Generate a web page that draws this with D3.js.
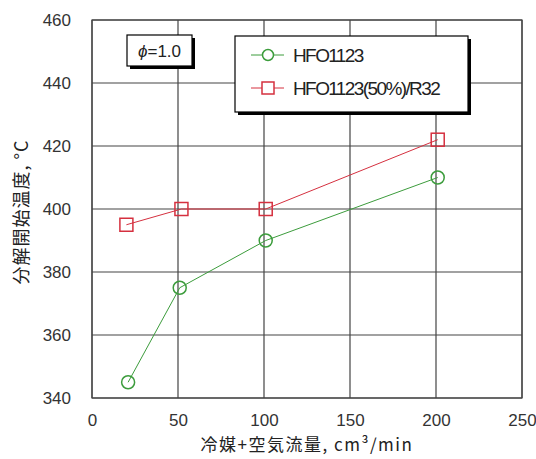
<!DOCTYPE html>
<html><head><meta charset="utf-8">
<script src="https://cdn.jsdelivr.net/npm/d3@7"></script>
<style>body{margin:0;background:#fff}</style>
</head><body>
<svg id="c" width="536" height="459"></svg>
<script>
const xTicks = [0, 50, 100, 150, 200, 250];
const yTicks = [340, 360, 380, 400, 420, 440, 460];
const hfoX = [21, 51, 101, 201];
const hfoY = [345, 375, 390, 410];
const blendX = [20, 52, 101, 201];
const blendY = [395, 400, 400, 422];
const seriesNames = ["HFO1123", "HFO1123(50%)/R32"];
const xLabel = "冷媒+空気流量, cm³/min";
const yLabel = "分解開始温度, °C";

const svg = d3.select("#c");
const L = 92, R = 522, T = 20, B = 398;
const x = d3.scaleLinear().domain([0, 250]).range([L, R]);
const y = d3.scaleLinear().domain([340, 460]).range([B, T]);
const font = "Liberation Sans, Arial, sans-serif";
const green = "#3c9c3c", red = "#d5303f";

// grid
svg.append("g").selectAll("line").data(xTicks).join("line")
  .attr("x1", d => x(d)).attr("x2", d => x(d)).attr("y1", T).attr("y2", B)
  .attr("stroke", "#444").attr("stroke-width", 1.2);
svg.append("g").selectAll("line").data(yTicks).join("line")
  .attr("y1", d => y(d)).attr("y2", d => y(d)).attr("x1", L).attr("x2", R)
  .attr("stroke", "#444").attr("stroke-width", 1.2);
svg.append("rect").attr("x", L).attr("y", T).attr("width", R - L).attr("height", B - T)
  .attr("fill", "none").attr("stroke", "#444").attr("stroke-width", 1.2);

// axes labels
const xa = svg.append("g").attr("transform", `translate(0,${B})`)
  .call(d3.axisBottom(x).tickValues(xTicks).tickSize(0).tickPadding(16));
xa.select(".domain").remove();
xa.selectAll("text").attr("font-family", font).attr("font-size", 17).attr("fill", "#333");
const ya = svg.append("g").attr("transform", `translate(${L},0)`)
  .call(d3.axisLeft(y).tickValues(yTicks).tickSize(0).tickPadding(21));
ya.select(".domain").remove();
ya.selectAll("text").attr("font-family", font).attr("font-size", 17).attr("fill", "#333");

svg.append("text").attr("x", (L + R) / 2).attr("y", 451).attr("text-anchor", "middle")
  .attr("font-family", "Noto Sans CJK JP, sans-serif").attr("font-size", 17).attr("letter-spacing", 1.5)
  .attr("fill", "#222")
  .text(xLabel);
svg.append("text").attr("transform", `translate(28,${(T + B) / 2 + 3}) rotate(-90)`)
  .attr("text-anchor", "middle")
  .attr("font-family", "Noto Sans CJK JP, sans-serif").attr("font-size", 18).attr("letter-spacing", 1)
  .attr("fill", "#222")
  .text(yLabel);

const line = d3.line().x(d => x(d[0])).y(d => y(d[1]));
const hfo = hfoX.map((v, i) => [v, hfoY[i]]);
const blend = blendX.map((v, i) => [v, blendY[i]]);

svg.append("path").datum(blend).attr("d", line).attr("fill", "none").attr("stroke", red).attr("stroke-width", 1);
svg.append("path").datum(hfo).attr("d", line).attr("fill", "none").attr("stroke", green).attr("stroke-width", 1);
svg.append("g").selectAll("rect").data(blend).join("rect")
  .attr("x", d => x(d[0]) - 6.5).attr("y", d => y(d[1]) - 6.5).attr("width", 13).attr("height", 13)
  .attr("fill", "none").attr("stroke", red).attr("stroke-width", 1.5);
svg.append("g").selectAll("circle").data(hfo).join("circle")
  .attr("cx", d => x(d[0])).attr("cy", d => y(d[1])).attr("r", 6.5)
  .attr("fill", "none").attr("stroke", green).attr("stroke-width", 1.5);

// phi box
svg.append("rect").attr("x", 130).attr("y", 38).attr("width", 65).attr("height", 31).attr("fill", "#000");
svg.append("rect").attr("x", 127).attr("y", 35).attr("width", 65).attr("height", 31)
  .attr("fill", "#fff").attr("stroke", "#000").attr("stroke-width", 1.2);
svg.append("text").attr("x", 159.5).attr("y", 57).attr("text-anchor", "middle")
  .attr("font-family", font).attr("font-size", 17).attr("fill", "#222")
  .html("<tspan font-style='italic'>ϕ</tspan>=1.0");

// legend
svg.append("rect").attr("x", 238).attr("y", 39).attr("width", 233).attr("height", 76).attr("fill", "#000");
svg.append("rect").attr("x", 235).attr("y", 36).attr("width", 233).attr("height", 76)
  .attr("fill", "#fff").attr("stroke", "#000").attr("stroke-width", 1.2);
const lg = [{n: seriesNames[0], c: green, y: 55, m: "c"}, {n: seriesNames[1], c: red, y: 88, m: "s"}];
lg.forEach(d => {
  svg.append("line").attr("x1", 251).attr("x2", 284).attr("y1", d.y).attr("y2", d.y).attr("stroke", d.c).attr("stroke-width", 1);
  if (d.m === "c") svg.append("circle").attr("cx", 268).attr("cy", d.y).attr("r", 5.5).attr("fill", "#fff").attr("stroke", d.c).attr("stroke-width", 1.5);
  else svg.append("rect").attr("x", 262).attr("y", d.y - 6).attr("width", 12).attr("height", 12).attr("fill", "#fff").attr("stroke", d.c).attr("stroke-width", 1.5);
  svg.append("text").attr("x", 293).attr("y", d.y + 7).attr("font-family", font).attr("font-size", 19)
    .attr("letter-spacing", -1.6).attr("fill", "#222").text(d.n);
});
</script>
</body></html>
